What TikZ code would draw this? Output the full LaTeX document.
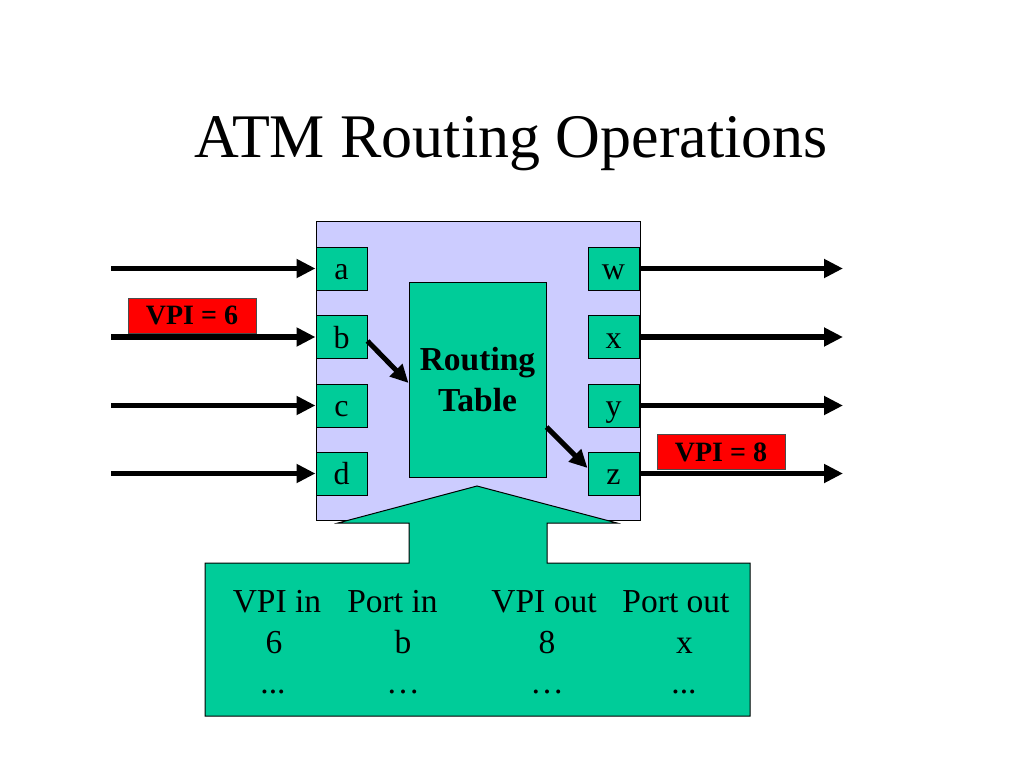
\documentclass[tikz,border=0pt]{standalone}
\usepackage{fontspec}
\setmainfont{Liberation Serif}
\usetikzlibrary{arrows.meta}
\definecolor{lav}{RGB}{204,204,255}
\definecolor{grn}{RGB}{0,204,153}
\begin{document}
\begin{tikzpicture}[x=1pt,y=-1pt,
 port/.style={draw=black, fill=grn, line width=1pt, minimum width=51pt, minimum height=43pt, inner sep=0pt, font=\fontsize{32}{38}\selectfont, text height=22pt, text depth=0pt},
 flow/.style={line width=5.5pt, -{Triangle[length=19pt,width=18pt]}},
 innerarrow/.style={line width=5pt, -{Triangle[length=18pt,width=17pt]}},
 vpi/.style={draw=black!70, fill=red, line width=1pt, minimum width=128pt, minimum height=35pt, inner sep=0pt, font=\fontsize{28}{32}\selectfont\bfseries},
 cell/.style={anchor=base, inner sep=0pt, font=\fontsize{33.5}{40}\selectfont}]
\path[fill=white] (0,0) rectangle (1024,768);
\useasboundingbox (0,0) rectangle (1024,768);
\node[anchor=base, inner sep=0pt, font=\fontsize{62}{70}\selectfont] (title) at (511,157) {ATM Routing Operations};
\node[draw, fill=lav, line width=1pt, minimum width=324pt, minimum height=299pt, inner sep=0pt] (sw) at (478,370.5) {};
% ports
\node[port] (a) at (341.5,268.5) {a};
\node[port] (b) at (341.5,337) {b};
\node[port] (c) at (341.5,405.5) {c};
\node[port] (d) at (341.5,473.5) {d};
\node[port] (w) at (613.5,268.5) {w};
\node[port] (x) at (613.5,337) {x};
\node[port] (y) at (613.5,405.5) {y};
\node[port] (z) at (613.5,473.5) {z};
% routing table
\node[draw, fill=grn, line width=1pt, minimum width=137pt, minimum height=195pt, inner sep=0pt, align=center, font=\fontsize{33.5}{41}\selectfont\bfseries] (tbl) at (477.5,379.5) {Routing\\Table};
% in/out arrows
\coordinate (ia) at (111,268.5);
\coordinate (ib) at (111,337);
\coordinate (ic) at (111,405.5);
\coordinate (id) at (111,473.5);
\coordinate (ow) at (843,268.5);
\coordinate (ox) at (843,337);
\coordinate (oy) at (843,405.5);
\coordinate (oz) at (843,473.5);
\draw[flow] (ia) -- (a.west);
\draw[flow] (ib) -- (b.west);
\draw[flow] (ic) -- (c.west);
\draw[flow] (id) -- (d.west);
\draw[flow] (w.east) -- (ow);
\draw[flow] (x.east) -- (ox);
\draw[flow] (y.east) -- (oy);
\draw[flow] (z.east) -- (oz);
% inner arrows
\draw[innerarrow] ([yshift=-4pt]b.east) -- ([yshift=-3.5pt]tbl.west);
\draw[innerarrow] ([yshift=-47.5pt]tbl.east) -- ([yshift=5.5pt]z.west);
% big arrow with table box
\draw[fill=grn, line width=1pt] (205,563) -- (409,563) -- (409,523) -- (338,523) -- (477,486) -- (617,523) -- (547,523) -- (547,563) -- (750,563) -- (750,716) -- (205,716) -- cycle;
\node[cell] (h1) at (277,612) {VPI in};
\node[cell] (h2) at (392.5,612) {Port in};
\node[cell] (h3) at (544,612) {VPI out};
\node[cell] (h4) at (676,612) {Port out};
\node[cell] (r1) at (274,653) {6};
\node[cell] (r2) at (403,653) {b};
\node[cell] (r3) at (547,653) {8};
\node[cell] (r4) at (684.5,653) {x};
\node[cell] (s1) at (273,693) {...};
\node[cell] (s2) at (403,693) {…};
\node[cell] (s3) at (547,693) {…};
\node[cell] (s4) at (684,693) {...};
% VPI labels
\node[vpi] (v6) at (192,315.5) {VPI = 6};
\node[vpi] (v8) at (721,452) {VPI = 8};
\end{tikzpicture}
\end{document}
